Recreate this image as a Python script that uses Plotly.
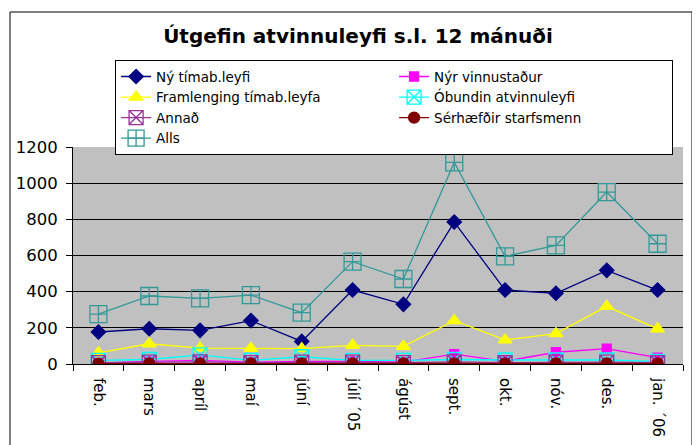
import plotly.graph_objects as go

months = ["feb.", "mars", "apríl", "maí", "júní", "júlí ´05", "ágúst", "sept.", "okt.", "nóv.", "des.", "jan. ´06"]

ny_timab = [177, 195, 186, 240, 125, 409, 330, 785, 409, 391, 518, 409]
nyr_vinnustadur = [5, 15, 20, 10, 15, 15, 10, 55, 15, 65, 85, 35]
framlenging = [62, 112, 88, 87, 85, 103, 98, 240, 133, 168, 319, 194]
obundin = [20, 25, 50, 20, 40, 20, 20, 25, 22, 22, 22, 15]
annad = [8, 10, 12, 8, 10, 10, 8, 12, 8, 10, 10, 8]
serhaefdir = [2, 3, 3, 3, 3, 3, 3, 3, 3, 3, 3, 3]
alls = [276, 376, 363, 381, 284, 566, 470, 1115, 595, 656, 951, 665]

yticks = [0, 200, 400, 600, 800, 1000, 1200]

series = [
    ("Ný tímab.leyfi", ny_timab, "#000080", "diamond", 11),
    ("Nýr vinnustaður", nyr_vinnustadur, "#FF00FF", "square", 9),
    ("Framlenging tímab.leyfa", framlenging, "#FFFF00", "triangle-up", 12),
    ("Óbundin atvinnuleyfi", obundin, "#00FFFF", "square-x-open", 14),
    ("Annað", annad, "#993399", "square-x-open", 14),
    ("Sérhæfðir starfsmenn", serhaefdir, "#800000", "circle", 11),
    ("Alls", alls, "#339999", "square-cross-open", 17),
]

fig = go.Figure()
for name, vals, color, sym, size in series:
    fig.add_trace(go.Scatter(
        x=months, y=vals, name=name, mode="lines+markers",
        line=dict(color=color, width=1.3),
        marker=dict(symbol=sym, size=size, color=color, line=dict(color=color, width=1.3)),
    ))

L, T, W, H = 65, 139, 610, 217

fig.update_layout(
    width=700, height=445,
    margin=dict(l=L, r=700 - L - W, t=T, b=445 - T - H),
    paper_bgcolor="white", plot_bgcolor="#C0C0C0",
    font=dict(family="DejaVu Sans, sans-serif", color="black", size=15),
    title=dict(text="<b>Útgefin atvinnuleyfi s.l. 12 mánuði</b>", x=0.5, xanchor="center",
               y=0.937, yanchor="middle", font=dict(size=20)),
    showlegend=True,
    legend=dict(orientation="h", x=0.069, xanchor="left", y=1.40, yanchor="top",
                entrywidth=233, bgcolor="white", bordercolor="black", borderwidth=1,
                font=dict(size=13.5), tracegroupgap=0, itemwidth=30),
    xaxis=dict(type="category", range=[-0.5, len(months) - 0.5], autorange=False,
               showgrid=False, showline=True, linecolor="black", linewidth=1,
               ticks="outside", ticklen=6, tickcolor="black", tickson="boundaries",
               tickangle=90, automargin=False, ticklabelstandoff=10, tickfont=dict(size=15)),
    yaxis=dict(range=[0, 1200], tickvals=yticks, showgrid=True, gridcolor="black", gridwidth=1,
               showline=True, linecolor="black", linewidth=1, ticks="outside", ticklen=6,
               tickcolor="black", zeroline=False, automargin=False, ticklabelstandoff=5,
               tickfont=dict(size=16.5)),
)

fig.add_shape(type="rect", xref="paper", yref="paper",
              x0=(2 - L) / W, x1=(684 - L) / W,
              y0=(T + H - 470) / H, y1=(T + H - 4) / H,
              line=dict(color="black", width=1), fillcolor="rgba(0,0,0,0)", layer="below")

fig.write_html("out.html")
